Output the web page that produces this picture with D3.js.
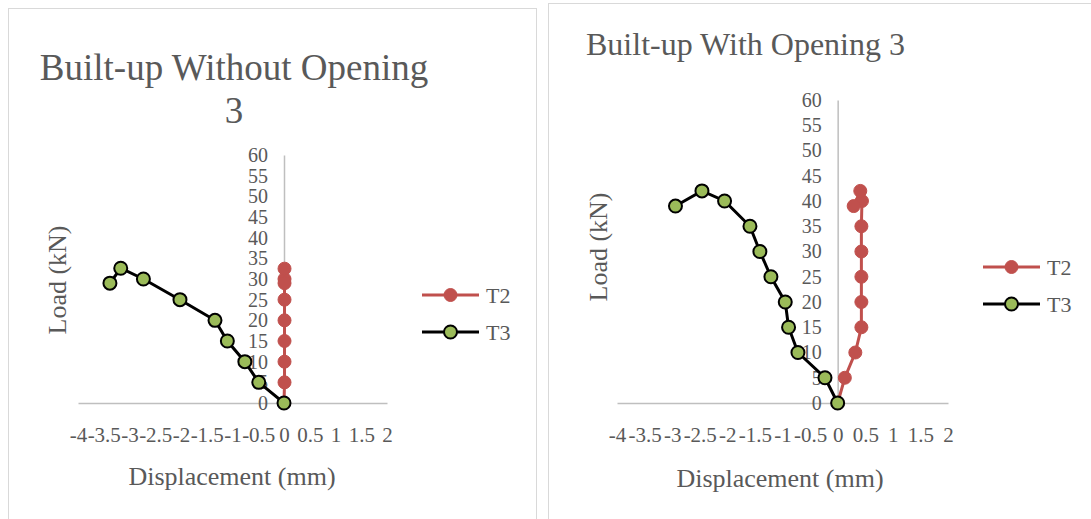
<!DOCTYPE html>
<html>
<head>
<meta charset="utf-8">
<script src="https://cdn.jsdelivr.net/npm/d3@7"></script>
</head>
<body style="margin:0;background:#fff">
<div id="chart"></div>
<script>
// Displacement (mm) / Load (kN) readings, in the order they were plotted
const leftT2Disp = [0, 0.01, 0.01, 0.01, 0.01, 0.01, 0.01, 0.01, 0.01];
const leftT2Load = [0, 5, 10, 15, 20, 25, 30, 32.5, 29];
const leftT3Disp = [0, -0.49, -0.76, -1.10, -1.34, -2.02, -2.73, -3.17, -3.38];
const leftT3Load = [0, 5, 10, 15, 20, 25, 30, 32.6, 29];

const rightT2Disp = [0, 0.13, 0.32, 0.43, 0.43, 0.43, 0.43, 0.43, 0.44, 0.41, 0.29];
const rightT2Load = [0, 5, 10, 15, 20, 25, 30, 35, 40, 42, 39];
const rightT3Disp = [0, -0.23, -0.72, -0.89, -0.95, -1.21, -1.41, -1.59, -2.05, -2.46, -2.94];
const rightT3Load = [0, 5, 10, 15, 20, 25, 30, 35, 40, 42, 39];

const xTicks = [-4, -3.5, -3, -2.5, -2, -1.5, -1, -0.5, 0, 0.5, 1, 1.5, 2];
const yTicks = [0, 5, 10, 15, 20, 25, 30, 35, 40, 45, 50, 55, 60];
const seriesNames = ["T2", "T3"];

const FONT = "Liberation Serif";
const TEXT = "#595959";

const svg = d3.select("#chart").append("svg")
    .attr("width", 1091).attr("height", 519)
    .attr("font-family", FONT);

// panel borders
svg.append("rect").attr("x", 8.5).attr("y", 8.5).attr("width", 528).attr("height", 530)
    .attr("fill", "none").attr("stroke", "#d9d9d9");
svg.append("rect").attr("x", 548.5).attr("y", 3.5).attr("width", 560).attr("height", 530)
    .attr("fill", "none").attr("stroke", "#d9d9d9");

function zip(a, b) { return a.map((v, i) => [v, b[i]]); }

function drawPanel(cfg) {
    let x = d3.scaleLinear().domain([-4, 2]).range(cfg.xRange);
    let y = d3.scaleLinear().domain([0, 60]).range(cfg.yRange);

    // x axis
    let gx = svg.append("g")
        .attr("transform", `translate(0,${y(0)})`)
        .call(d3.axisBottom(x).tickValues(xTicks).tickFormat(d => String(d))
            .tickSize(0).tickPadding(24));
    gx.attr("font-family", FONT).attr("font-size", 21);
    gx.select(".domain").attr("stroke", "#bfbfbf").attr("stroke-width", 1.5);
    gx.selectAll("text").attr("fill", TEXT);

    // y axis
    let gy = svg.append("g")
        .attr("transform", `translate(${x(0)},0)`)
        .call(d3.axisLeft(y).tickValues(yTicks).tickSize(0).tickPadding(16));
    gy.attr("font-family", FONT).attr("font-size", 20);
    gy.select(".domain").attr("stroke", "#bfbfbf").attr("stroke-width", 1.5);
    gy.selectAll("text").attr("fill", TEXT);

    // titles
    cfg.title.forEach((t, i) => {
        svg.append("text")
            .attr("x", cfg.titleX).attr("y", cfg.titleY[i])
            .attr("text-anchor", cfg.titleAnchor)
            .attr("font-family", FONT).attr("font-size", cfg.titleSize)
            .attr("fill", TEXT)
            .text(t);
    });
    svg.append("text")
        .attr("x", cfg.xTitle[0]).attr("y", cfg.xTitle[1])
        .attr("text-anchor", "middle").attr("font-family", FONT).attr("font-size", 26)
        .attr("fill", TEXT)
        .text("Displacement (mm)");
    svg.append("text")
        .attr("transform", `translate(${cfg.yTitle[0]},${cfg.yTitle[1]}) rotate(-90)`)
        .attr("text-anchor", "middle").attr("font-family", FONT).attr("font-size", 26)
        .attr("fill", TEXT)
        .text("Load (kN)");

    let line = d3.line().x(d => x(d[0])).y(d => y(d[1]));

    // T2
    let t2 = zip(cfg.t2Disp, cfg.t2Load);
    svg.append("path").datum(t2).attr("d", line)
        .attr("fill", "none").attr("stroke", "#c0504d").attr("stroke-width", 3);
    svg.append("g").selectAll("circle").data(t2).join("circle")
        .attr("cx", d => x(d[0])).attr("cy", d => y(d[1])).attr("r", 6.5)
        .attr("fill", "#c0504d").attr("stroke", "#c0504d");

    // T3
    let t3 = zip(cfg.t3Disp, cfg.t3Load);
    svg.append("path").datum(t3).attr("d", line)
        .attr("fill", "none").attr("stroke", "#000").attr("stroke-width", 3);
    svg.append("g").selectAll("circle").data(t3).join("circle")
        .attr("cx", d => x(d[0])).attr("cy", d => y(d[1])).attr("r", 6.5)
        .attr("fill", "#9bbb59").attr("stroke", "#000").attr("stroke-width", 2);

    // legend
    let lx = cfg.legend[0], ly = cfg.legend[1];
    seriesNames.forEach((name, i) => {
        let yy = ly + i * 37;
        let col = i === 0 ? "#c0504d" : "#000";
        svg.append("line").attr("x1", lx).attr("x2", lx + 57)
            .attr("y1", yy).attr("y2", yy)
            .attr("stroke", col).attr("stroke-width", 3);
        svg.append("circle").attr("cx", lx + 28.5).attr("cy", yy).attr("r", 6.5)
            .attr("fill", i === 0 ? "#c0504d" : "#9bbb59")
            .attr("stroke", col).attr("stroke-width", i === 0 ? 1 : 2);
        svg.append("text").attr("x", lx + 64).attr("y", yy + 8)
            .attr("font-family", FONT).attr("font-size", 22).attr("fill", TEXT)
            .text(name);
    });
}

drawPanel({
    xRange: [78, 387], yRange: [403, 155],
    title: ["Built-up Without Opening", "3"], titleX: 234, titleY: [80, 123],
    titleAnchor: "middle", titleSize: 37,
    xTitle: [232, 485], yTitle: [66, 280],
    t2Disp: leftT2Disp, t2Load: leftT2Load, t3Disp: leftT3Disp, t3Load: leftT3Load,
    legend: [422, 295]
});

drawPanel({
    xRange: [617, 948], yRange: [403, 100],
    title: ["Built-up With Opening 3"], titleX: 586, titleY: [55],
    titleAnchor: "start", titleSize: 32,
    xTitle: [780, 487], yTitle: [607, 247],
    t2Disp: rightT2Disp, t2Load: rightT2Load, t3Disp: rightT3Disp, t3Load: rightT3Load,
    legend: [983, 267]
});
</script>
</body>
</html>
